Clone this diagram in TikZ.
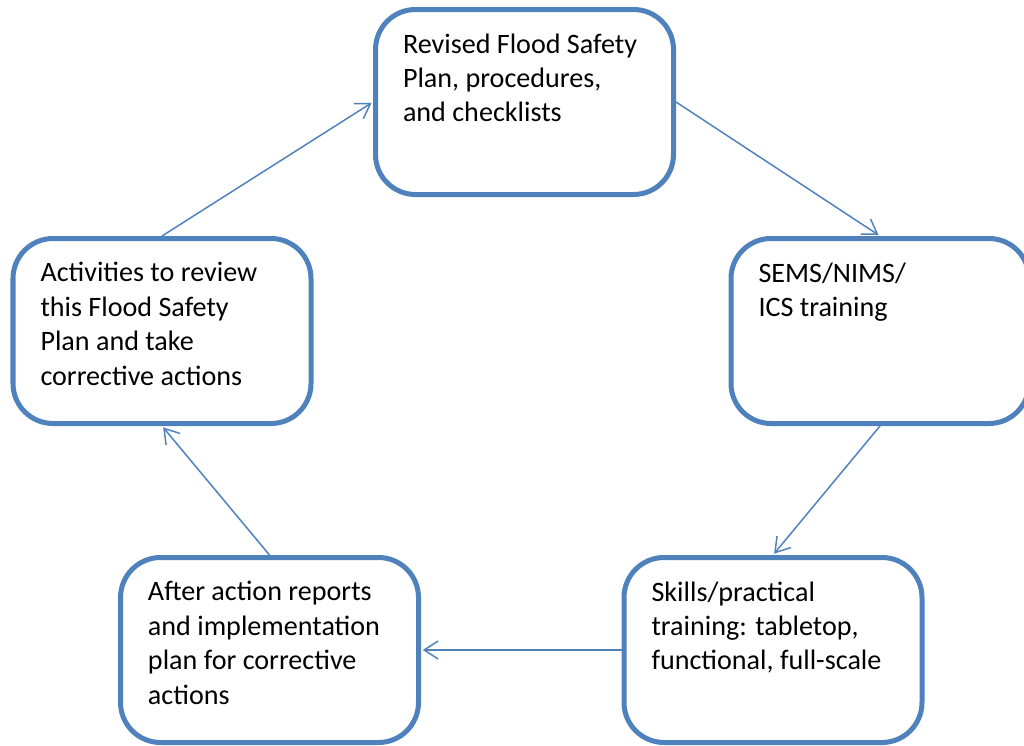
\documentclass[tikz,border=0pt]{standalone}
\usepackage{fontspec}
\setmainfont{Carlito}
\usetikzlibrary{arrows.meta, positioning}
\definecolor{cycleBlue}{RGB}{79, 129, 189}
\definecolor{textBlack}{RGB}{0, 0, 0}

\newcommand{\phasetext}[1]{\parbox[c][2.74cm][t]{4.86cm}{\raggedright #1}}

\begin{document}
\begin{tikzpicture}[
    phase/.style={
        rectangle,
        rounded corners=0.8cm,
        draw=cycleBlue,
        line width=0.1cm,
        fill=white,
        inner xsep=0.55cm,
        inner ysep=0.48cm,
        text=textBlack,
        font=\fontsize{16}{19.6}\selectfont
    },
    flow/.style={
        draw=cycleBlue,
        line width=0.85pt,
        -{Straight Barb[length=0.28cm, width=0.36cm]},
        shorten >=1pt
    }
]

\useasboundingbox (0,0) rectangle (20.48,-14.92);

% Cycle steps
\node[phase] (plan) at (10.49, -2.04) {\phasetext{Revised Flood Safety\\ Plan, procedures,\\ and checklists}};
\node[phase] (sems) at (17.6, -6.62) {\phasetext{SEMS/NIMS/\\ ICS training}};
\node[phase] (skills) at (15.46, -13.0) {\phasetext{Skills/practical\\ training: tabletop,\\ functional, full-scale}};
\node[phase] (after) at (5.39, -13.0) {\phasetext{After action reports\\ and implementation\\ plan for corrective\\ actions}};
\node[phase] (review) at (3.24, -6.62) {\phasetext{Activities to review\\ this Flood Safety\\ Plan and take\\ corrective actions}};

% Arrows round the cycle
\draw[flow] (review.north) -- (plan.west);
\draw[flow] (plan.east) -- (sems.north);
\draw[flow] (sems.south) -- (skills.north);
\draw[flow] (skills.west) -- (after.east);
\draw[flow] (after.north) -- (review.south);

\end{tikzpicture}
\end{document}
